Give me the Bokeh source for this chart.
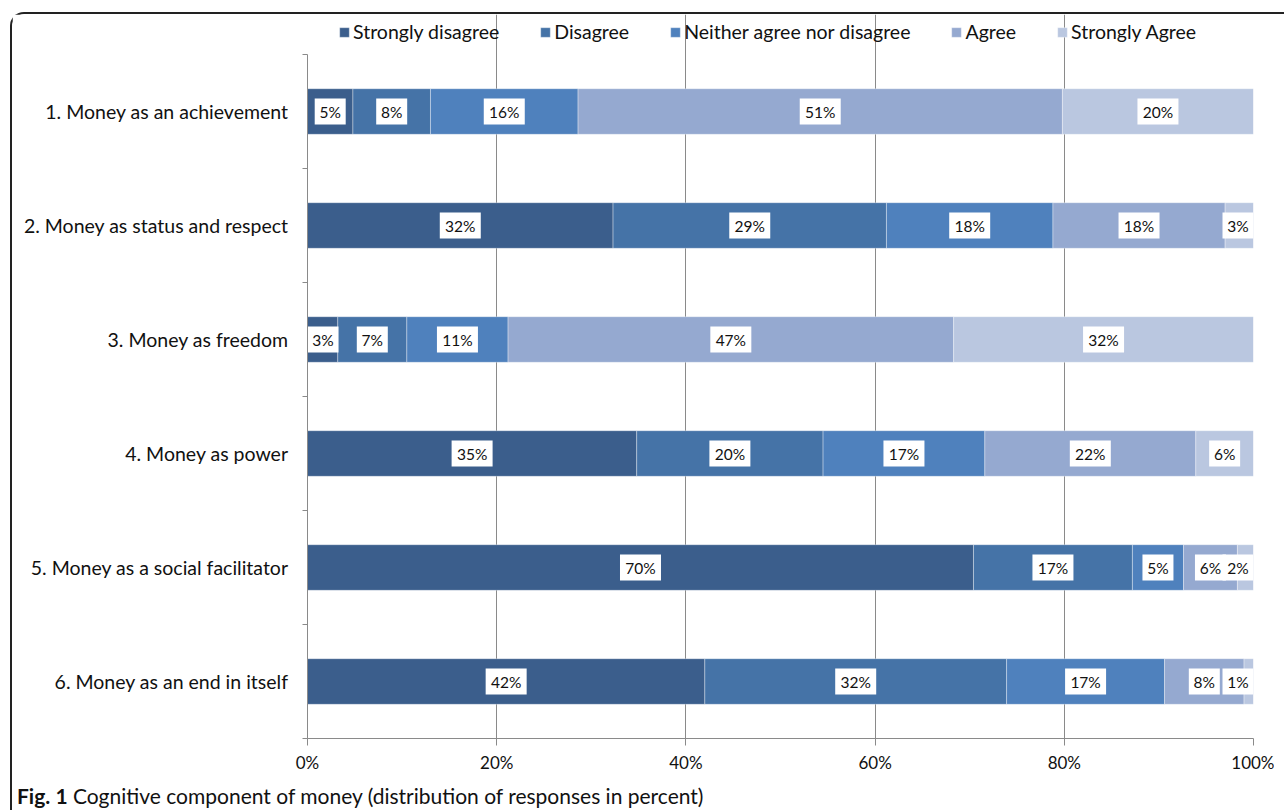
from bokeh.plotting import figure
from bokeh.layouts import column
from bokeh.models import (ColumnDataSource, Range1d, FixedTicker, PrintfTickFormatter, Div)
from bokeh.core.properties import value
from bokeh.embed import file_html
from bokeh.resources import INLINE

categories = ["1. Money as an achievement", "2. Money as status and respect",
              "3. Money as freedom", "4. Money as power",
              "5. Money as a social facilitator", "6. Money as an end in itself"]
responses = ["Strongly disagree", "Disagree", "Neither agree nor disagree", "Agree", "Strongly Agree"]
strongly_disagree = [4.8, 32.3, 3.2, 34.8, 70.4, 42.0]
disagree = [8.2, 28.9, 7.3, 19.7, 16.8, 31.9]
neither = [15.6, 17.6, 10.7, 17.1, 5.4, 16.7]
agree = [51.2, 18.2, 47.1, 22.3, 5.7, 8.4]
strongly_agree = [20.2, 3.0, 31.7, 6.1, 1.7, 1.0]
x_ticks = [0, 20, 40, 60, 80, 100]
colors = ["#3B5E8C", "#4573A7", "#4F81BD", "#95A9D0", "#BAC7E0"]
caption = "Cognitive component of money (distribution of responses in percent)"

n = len(categories)
ypos = [n - i - 0.5 for i in range(n)]  # first category on top

series = [strongly_disagree, disagree, neither, agree, strongly_agree]
keys = ["sd", "d", "n", "a", "sa"]
data = {"y": ypos}
for k, s in zip(keys, series):
    data[k] = s
source = ColumnDataSource(data)

FONT = "Lato"
PX_PER_UNIT = 9.46  # frame width / 100

# label positions (segment centres, kept inside the plot area)
lx, ly, lt, lw = [], [], [], []
for i in range(n):
    cum = 0.0
    for s in series:
        v = s[i]
        t = f"{round(v)}%"
        w = 10 * len(t) + 11
        hw = (w / 2) / PX_PER_UNIT
        c = min(max(cum + v / 2, hw), 100 - hw)
        lx.append(c)
        ly.append(ypos[i])
        lt.append(t)
        lw.append(w)
        cum += v
lab_src = ColumnDataSource(dict(x=lx, y=ly, t=lt, w=lw))

p = figure(width=1262, height=766, output_backend="svg", toolbar_location=None,
           y_range=Range1d(0, n + 0.351), x_range=Range1d(0, 100),
           min_border_left=295, min_border_right=21, min_border_top=0, min_border_bottom=42)
p.background_fill_color = "white"
p.border_fill_color = "white"
p.outline_line_color = None

rs = p.hbar_stack(keys, y="y", height=0.4, color=colors, source=source,
                  line_color="white", line_alpha=0.35, line_width=1,
                  legend_label=responses)

p.rect(x="x", y="y", width="w", height=26, width_units="screen", height_units="screen",
       source=lab_src, fill_color="white", line_color=None)
p.text(x="x", y="y", text="t", source=lab_src, text_align="center", text_baseline="middle",
       text_font=value(FONT), text_font_size="15.5px", text_color="#111111")

# grid
p.ygrid.grid_line_color = None
p.xgrid.ticker = FixedTicker(ticks=x_ticks)
p.xgrid.grid_line_color = "#8a8a8a"
p.xgrid.grid_line_width = 1
p.xgrid.bounds = (0, n)

# x axis
xa = p.xaxis[0]
xa.ticker = FixedTicker(ticks=x_ticks)
xa.formatter = PrintfTickFormatter(format="%d%%")
xa.axis_line_color = "#8a8a8a"
xa.major_tick_line_color = "#8a8a8a"
xa.major_tick_out = 7
xa.major_tick_in = 0
xa.minor_tick_line_color = None
xa.major_label_standoff = 6
xa.major_label_text_font = FONT
xa.major_label_text_font_size = "17px"
xa.major_label_text_color = "#111111"

# y axis: labels at category centres, small ticks between categories
ya = p.yaxis[0]
ya.ticker = FixedTicker(ticks=ypos, minor_ticks=list(range(n + 1)))
ya.major_label_overrides = {y: c for y, c in zip(ypos, categories)}
ya.bounds = (0, n)
ya.axis_line_color = "#8a8a8a"
ya.major_tick_line_color = None
ya.major_tick_out = 5
ya.major_tick_in = 0
ya.minor_tick_line_color = "#8a8a8a"
ya.minor_tick_out = 5
ya.minor_tick_in = 0
ya.major_label_standoff = 14
ya.major_label_text_font = FONT
ya.major_label_text_font_size = "19.5px"
ya.major_label_text_color = "#111111"

# legend (inside the top strip of the plot area)
leg = p.legend[0]
leg.orientation = "horizontal"
leg.location = (31, 695)
leg.label_text_font = FONT
leg.label_text_font_size = "19.5px"
leg.label_text_color = "#111111"
leg.glyph_width = 12
leg.glyph_height = 12
leg.label_standoff = 3
leg.spacing = 40
leg.padding = 0
leg.margin = 0
leg.border_line_color = None
leg.background_fill_alpha = 0

cap = Div(text=f"<b>Fig. 1</b> {caption}", width=1262,
          styles={"font-family": FONT, "font-size": "21px", "color": "#111111",
                  "line-height": "22px", "white-space": "nowrap"})

layout = column(p, cap, spacing=0, margin=(12, 0, 0, 10),
                styles={"border-top": "2px solid #222222", "border-left": "2px solid #222222",
                        "border-top-left-radius": "14px"})

open("out.html", "w").write(file_html(layout, INLINE))
